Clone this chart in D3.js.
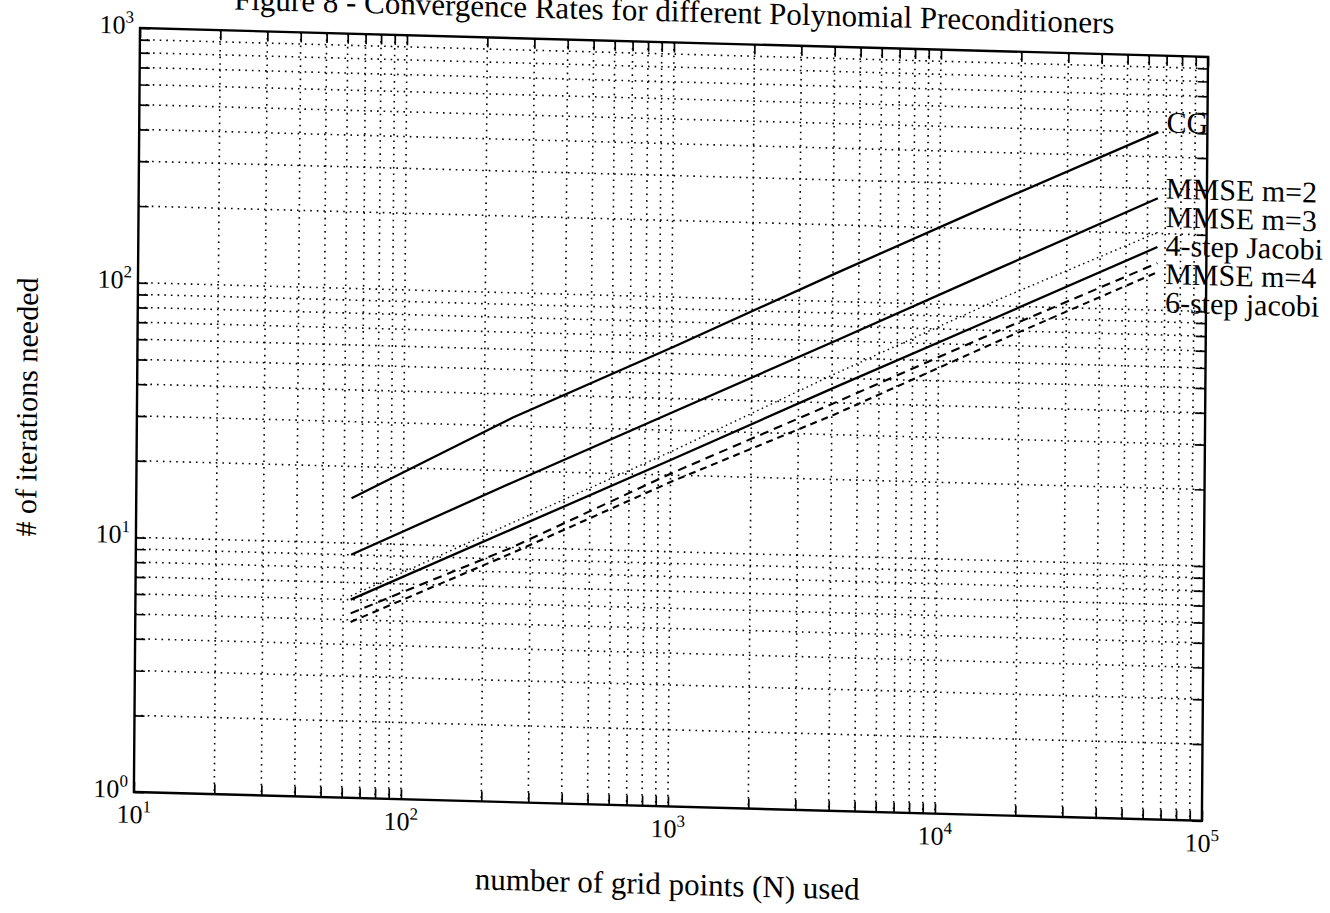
<!DOCTYPE html>
<html>
<head>
<meta charset="utf-8">
<script src="https://cdn.jsdelivr.net/npm/d3@7"></script>
<style>
  body { margin: 0; background: #fff; }
  text { font-family: "Liberation Serif", "Times New Roman", serif; fill: #000; }
</style>
</head>
<body>
<svg id="chart" width="1330" height="913"></svg>
<script>
// values (N = 8^2 ... 256^2)
var gridPoints = [64, 256, 1024, 4096, 16384, 65536];
var seriesNames = ["CG", "MMSE m=2", "MMSE m=3", "4-step Jacobi", "MMSE m=4", "6-step jacobi"];
var cgIter      = [15, 32.4, 64, 129, 256, 500];
var mmse2Iter   = [9, 18, 35.5, 70, 139, 275];
var mmse3Iter   = [6.2, 12.5, 25, 52, 105, 202];
var jacobi4Iter = [6, 11.8, 23.2, 46, 90, 177];
var mmse4Iter   = [5.3, 10, 20.5, 40, 79, 153];
var jacobi6Iter = [4.9, 9.5, 19, 36, 72, 141];
var xTickExp = [1, 2, 3, 4, 5];
var yTickExp = [0, 1, 2, 3];
var titleText = "Figure 8 - Convergence Rates for different Polynomial Preconditioners";
var xTitle = "number of grid points (N) used";
var yTitle = "# of iterations needed";

var allSeries = [cgIter, mmse2Iter, mmse3Iter, jacobi4Iter, mmse4Iter, jacobi6Iter];
// solid, solid, dotted, solid, dashed, dashed
var dashes = [null, null, "1.5,3.5", null, "9,6", "7,5"];
var widths = [2.3, 2.3, 1.4, 2.3, 2.1, 2.1];

var W = 1068, H = 764;
var svg = d3.select("#chart");
svg.append("rect").attr("width", 1330).attr("height", 913).attr("fill", "#fff");

// the scanned page sits a bit crooked, so tilt the whole thing
var g = svg.append("g").attr("transform", "matrix(1,0.027,-0.008,1,140,28)");

var x = d3.scaleLog().domain([10, 1e5]).range([0, W]);
var y = d3.scaleLog().domain([1, 1e3]).range([H, 0]);

// dotted grid
g.selectAll(".vgrid").data(x.ticks().filter(function(d){ return d > 10 && d < 1e5; }))
  .enter().append("line")
  .attr("x1", function(d){ return x(d); }).attr("x2", function(d){ return x(d); })
  .attr("y1", 0).attr("y2", H)
  .attr("stroke", "#000").attr("stroke-width", 1.6).attr("stroke-dasharray", "1.6,5");
g.selectAll(".hgrid").data(y.ticks().filter(function(d){ return d > 1 && d < 1e3; }))
  .enter().append("line")
  .attr("x1", 0).attr("x2", W)
  .attr("y1", function(d){ return y(d); }).attr("y2", function(d){ return y(d); })
  .attr("stroke", "#000").attr("stroke-width", 1.6).attr("stroke-dasharray", "1.6,5");

// inward ticks on all four sides
function tickAxis(axis, tx, ty) {
  var a = g.append("g").attr("transform", "translate(" + tx + "," + ty + ")")
    .call(axis.tickSize(-10).tickSizeOuter(0).tickFormat(""));
  a.selectAll("line").attr("stroke", "#000").attr("stroke-width", 1.7);
  a.select(".domain").remove();
}
tickAxis(d3.axisBottom(x), 0, H);
tickAxis(d3.axisTop(x), 0, 0);
tickAxis(d3.axisLeft(y), 0, 0);
tickAxis(d3.axisRight(y), W, 0);

g.append("rect").attr("width", W).attr("height", H)
  .attr("fill", "none").attr("stroke", "#000").attr("stroke-width", 2.4);

// tick labels 10^k
xTickExp.forEach(function(k) {
  var t = g.append("text").attr("x", x(Math.pow(10, k))).attr("y", H + 31)
    .attr("text-anchor", "middle").attr("font-size", 26);
  t.append("tspan").text("10");
  t.append("tspan").attr("dy", -11).attr("font-size", 17).text(k);
});
yTickExp.forEach(function(k) {
  var t = g.append("text").attr("x", -6).attr("y", y(Math.pow(10, k)) + 6)
    .attr("text-anchor", "end").attr("font-size", 26);
  t.append("tspan").text("10");
  t.append("tspan").attr("dy", -11).attr("font-size", 17).text(k);
});

// curves
var line = d3.line()
  .x(function(d){ return x(d[0]); })
  .y(function(d){ return y(d[1]); });
allSeries.forEach(function(vals, i) {
  g.append("path")
    .datum(gridPoints.map(function(n, j){ return [n, vals[j]]; }))
    .attr("d", line)
    .attr("fill", "none").attr("stroke", "#000")
    .attr("stroke-width", widths[i])
    .attr("stroke-dasharray", dashes[i]);
});

// series names at the right end, the lower ones stacked
allSeries.forEach(function(vals, i) {
  var ly = i < 2 ? y(vals[vals.length - 1]) : y(mmse2Iter[mmse2Iter.length - 1]) + (i - 1) * 28.5;
  g.append("text").attr("x", 1027).attr("y", ly)
    .attr("font-size", 30).text(seriesNames[i]);
});

g.append("text").attr("x", W / 2).attr("y", -21)
  .attr("text-anchor", "middle").attr("font-size", 31).text(titleText);
g.append("text").attr("x", W / 2).attr("y", H + 88)
  .attr("text-anchor", "middle").attr("font-size", 31).text(xTitle);
g.append("text").attr("transform", "translate(-100," + (H / 2) + ") rotate(-90)")
  .attr("text-anchor", "middle").attr("font-size", 30).text(yTitle);
</script>
</body>
</html>
